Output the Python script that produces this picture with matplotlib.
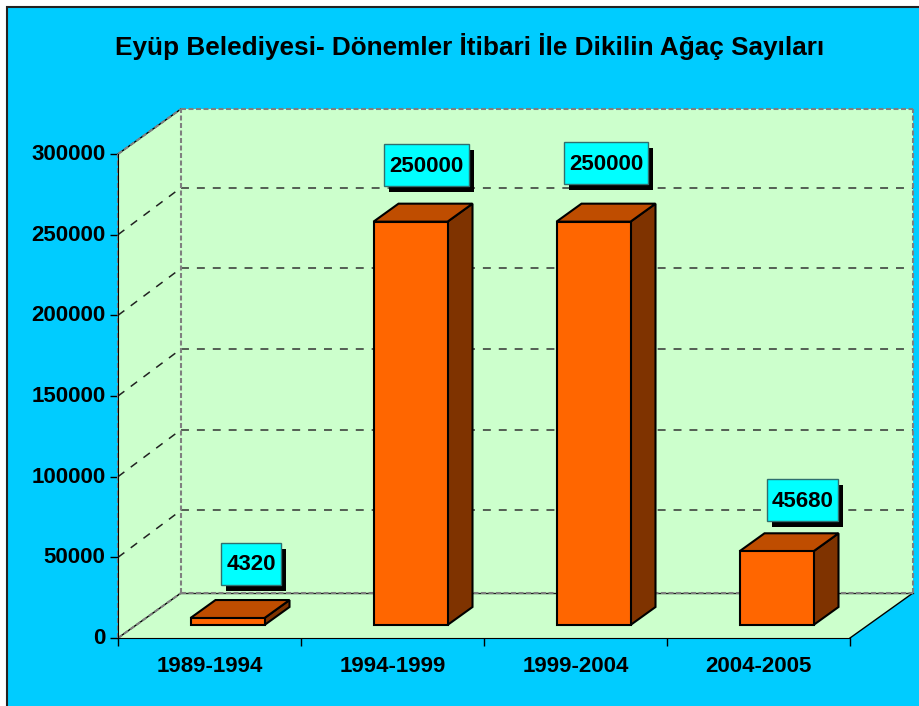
import matplotlib
matplotlib.use("Agg")
import matplotlib.pyplot as plt
import matplotlib.patheffects as pe
from matplotlib.patches import Polygon, Rectangle
from matplotlib.path import Path
from matplotlib.transforms import ScaledTranslation

# data
periods = ["1989-1994", "1994-1999", "1999-2004", "2004-2005"]
trees = [4320, 250000, 250000, 45680]
yticks = [0, 50000, 100000, 150000, 200000, 250000, 300000]
title = "Eyüp Belediyesi- Dönemler İtibari İle Dikilin Ağaç Sayıları"

# colours
BG = "#00CCFF"
WALL = "#CCFFCC"
FRONT = "#FF6600"
TOP = "#BF4D00"
SIDE = "#7F3300"
LABEL = "#00FFFF"
GREY = "#808080"

W, H = 919, 706
plt.rcParams["font.family"] = ["Liberation Sans", "DejaVu Sans"]
plt.rcParams["font.weight"] = "bold"

fig = plt.figure(figsize=(W / 100, H / 100), dpi=100, facecolor="white")
# blue panel, runs off the right and bottom edge
fig.add_artist(Rectangle((7 / W, -0.01), 1.0, 1 - 7 / H + 0.01, transform=fig.transFigure,
                         facecolor=BG, edgecolor="#222222", linewidth=1.5, zorder=-1))

# axes = front plane of the 3D box
L, R, B, T = 118, 850, 638, 154
ax = fig.add_axes([L / W, (H - B) / H, (R - L) / W, (B - T) / H])
ax.set_xlim(0, len(periods))
ax.set_ylim(0, 300000)
ax.patch.set_visible(False)

# pixel to data scale
px_x = len(periods) / (R - L)
px_y = 300000 / (B - T)
depth_x, depth_y = 63 * px_x, 45 * px_y
xmax = len(periods)
ymax = 300000


def poly(points, fc, ec="black", lw=1.5, z=3):
    ax.add_patch(Polygon(points, closed=True, facecolor=fc, edgecolor=ec, linewidth=lw,
                         joinstyle="miter", clip_on=False, zorder=z))


def label_box(x0, y0, width, height, mutation_size):
    # box with its own padding, in pixels (y goes up here)
    x1, y1 = x0 + width + 5, y0 + height + 11.5
    x0, y0 = x0 - 5, y0 - 9.5
    return Path([(x0, y0), (x1, y0), (x1, y1), (x0, y1), (x0, y0)], closed=True)


# walls and floor
poly([(0, 0), (depth_x, depth_y), (depth_x, ymax + depth_y), (0, ymax)], WALL, "none", 0, 1)
poly([(depth_x, depth_y), (xmax + depth_x, depth_y), (xmax + depth_x, ymax + depth_y),
      (depth_x, ymax + depth_y)], WALL, "none", 0, 1)
poly([(0, 0), (xmax, 0), (xmax + depth_x, depth_y), (depth_x, depth_y)], WALL, "none", 0, 1)

# grid
grid_up = 2 * px_y      # back wall grid sits 2px higher than the scale gives
for v in yticks[1:-1]:
    ax.plot([0, depth_x], [v, v + depth_y + grid_up], color="#222222", lw=1.1, dashes=(5.2, 5.2),
            clip_on=False, zorder=2)
    ax.plot([depth_x, xmax + depth_x], [v + depth_y + grid_up] * 2, color="#333333", lw=1.1,
            dashes=(5.2, 5.2), clip_on=False, zorder=2)

# wall borders
ax.plot([0, depth_x], [0, depth_y], color="black", lw=1, clip_on=False, zorder=2)
ax.plot([0, depth_x], [ymax, ymax + depth_y], color="black", lw=1, clip_on=False, zorder=2)
ax.plot([xmax, xmax + depth_x], [0, depth_y], color="black", lw=1, clip_on=False, zorder=2)
ax.plot([depth_x, xmax + depth_x], [depth_y, depth_y], color="#222222", lw=1, clip_on=False, zorder=2)
for xs, ys in [([0, depth_x], [0, depth_y]),
               ([0, depth_x], [ymax, ymax + depth_y]),
               ([depth_x, depth_x], [depth_y, ymax + depth_y]),
               ([depth_x, xmax + depth_x], [depth_y, depth_y]),
               ([depth_x, xmax + depth_x], [ymax + depth_y, ymax + depth_y]),
               ([xmax + depth_x, xmax + depth_x], [depth_y, ymax + depth_y]),
               ([0, 0], [0, ymax])]:
    ax.plot(xs, ys, color=GREY, lw=1.5, dashes=(2.4, 1.2), clip_on=False, zorder=2.5)

# bars
bar_w = 74 * px_x
bar_dx, bar_dy = 18 * px_x, 13 * px_y       # bar front sits a bit inside the box
side_x, side_y = 25 * px_x, 18 * px_y
centers = [i + 0.5 + bar_dx for i in range(len(periods))]
ax.bar(centers, trees, width=bar_w, bottom=bar_dy, color=FRONT, edgecolor="black",
       linewidth=1.5, zorder=4, clip_on=False)
for c, v in zip(centers, trees):
    x0, x1 = c - bar_w / 2, c + bar_w / 2
    y0, y1 = bar_dy, bar_dy + v
    poly([(x1, y0), (x1 + side_x, y0 + side_y), (x1 + side_x, y1 + side_y), (x1, y1)], SIDE)
    poly([(x0, y1), (x1, y1), (x1 + side_x, y1 + side_y), (x0 + side_x, y1 + side_y)], TOP)

# value labels (offset from bar top in px, picked by eye)
label_off = [(23.5, 53.5), (16, 55.5), (12.5, 57.5), (26, 50)]
for c, v, off in zip(centers, trees, label_off):
    ann = ax.annotate(str(v), (c, bar_dy + v), xytext=(off[0] * 0.72, off[1] * 0.72),
                      textcoords="offset points", ha="center", va="center", fontsize=16,
                      color="black", zorder=7, annotation_clip=False,
                      bbox=dict(boxstyle=label_box, fc=LABEL, ec="#2f6f6f", lw=1))
    ann.get_bbox_patch().set_path_effects(
        [pe.withSimplePatchShadow(offset=(3.6, -4.3), shadow_rgbFace="black", alpha=1)])

# axes
for s in ["top", "right"]:
    ax.spines[s].set_visible(False)
ax.spines["left"].set_color("black")
ax.spines["bottom"].set_color("black")
ax.spines["left"].set_zorder(2.6)
ax.set_yticks(yticks)
ax.set_yticklabels([str(v) for v in yticks], fontsize=16)
ax.set_xticks(range(len(periods) + 1))
ax.set_xticklabels([])
ax.set_xticks([i + 0.5 for i in range(len(periods))], labels=periods, minor=True, fontsize=16)
ax.tick_params(axis="x", which="minor", length=0, pad=13)
ax.tick_params(axis="x", which="major", length=6, width=1)
ax.tick_params(axis="y", length=6, width=1, pad=3)
# y labels sit a little above their ticks in the original
for lab in ax.get_yticklabels():
    lab.set_transform(lab.get_transform() + ScaledTranslation(0, 1.5 / 72, fig.dpi_scale_trans))

fig.text(470 / W, 1 - 47 / H, title, ha="center", va="center", fontsize=18.8, color="black")

fig.savefig("out.png", dpi=100, facecolor="white")
